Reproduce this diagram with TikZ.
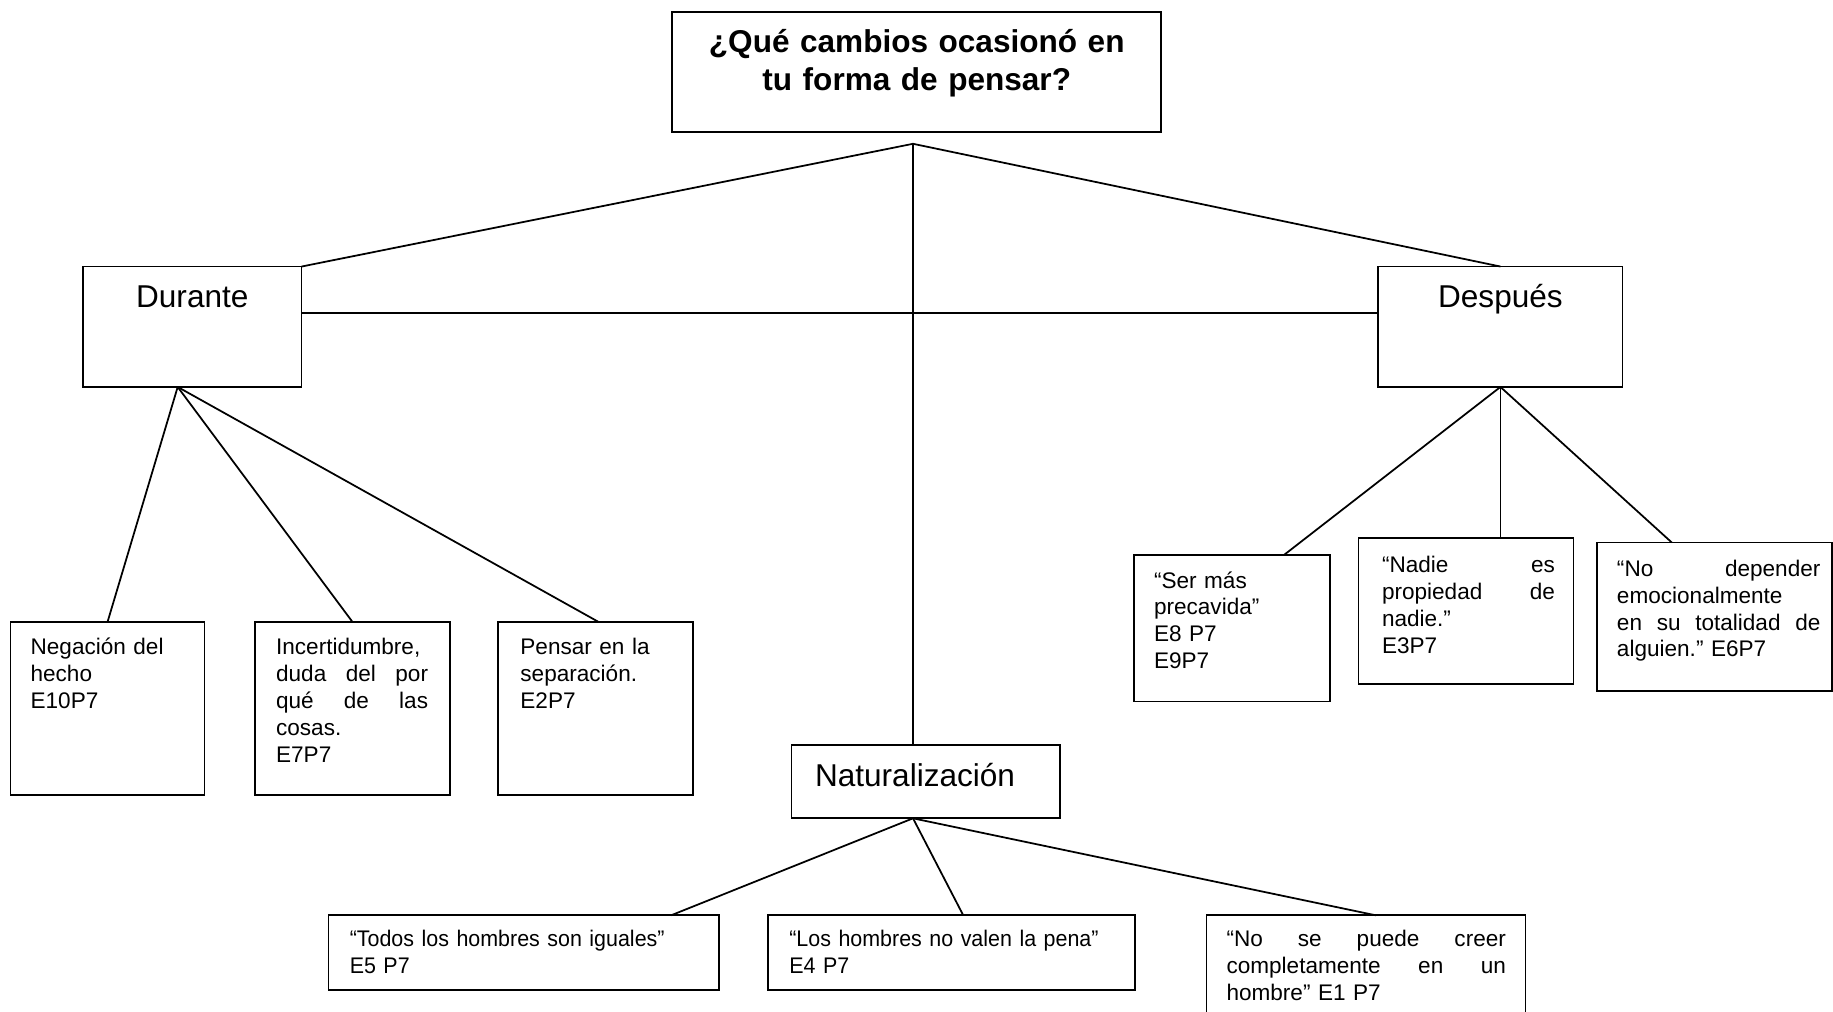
\documentclass[tikz,border=0pt]{standalone}
\usepackage{fontspec}
\setmainfont{Liberation Sans}
\newfontfamily\narrowsans[FakeStretch=0.95]{Liberation Sans}
\usetikzlibrary{calc}
\frenchspacing
\newcommand{\tline}[1]{\leavevmode\hbox to\linewidth{#1\hfil}\par}
\newcommand{\ctrline}[1]{\leavevmode\hbox to\linewidth{\hfil#1\hfil}\par}
\begin{document}
\begin{tikzpicture}[x=1pt,y=-1pt,
  box/.style={draw=black, line width=1.5pt, anchor=north west, inner sep=0pt, outer sep=0pt},
  con/.style={draw=black, line width=1.5pt},
  small/.style={anchor=base west, inner sep=0pt, font=\fontsize{19.3}{23}\selectfont},
  big/.style={anchor=base, inner sep=0pt, font=\fontsize{27}{31}\selectfont},
  title/.style={anchor=base west, inner sep=0pt, font=\bfseries\fontsize{27}{32}\selectfont}]
\useasboundingbox (0,0) rectangle (1568,865);

% boxes
\node[box, minimum width=418pt, minimum height=103pt] (top) at (575,10) {};
\node[box, minimum width=187pt, minimum height=103pt] (dur) at (71,228) {};
\node[box, minimum width=209pt, minimum height=103pt] (des) at (1179,228) {};
\node[box, minimum width=230pt, minimum height=63pt] (nat) at (677,637) {};
\node[box, minimum width=166pt, minimum height=148pt] (b1) at (9,532) {};
\node[box, minimum width=167pt, minimum height=148pt] (b2) at (218,532) {};
\node[box, minimum width=167pt, minimum height=148pt] (b3) at (426,532) {};
\node[box, minimum width=168pt, minimum height=125pt] (b4) at (970,475) {};
\node[box, minimum width=184pt, minimum height=125pt] (b5) at (1162,460) {};
\node[box, minimum width=201pt, minimum height=127pt] (b6) at (1366,464) {};
\node[box, minimum width=334pt, minimum height=64pt] (b7) at (281,783) {};
\node[box, minimum width=314pt, minimum height=64pt] (b8) at (657,783) {};
\node[box, minimum width=273pt, minimum height=95pt] (b9) at (1032,783) {};

% texts
\node[title, text width=418pt] (ttop) at ($(top.north west)+(0,35)$)
  {\ctrline{¿Qué cambios ocasionó en}\ctrline{tu forma de pensar?}};
\node[big] (tdur) at ($(dur.north)+(0,35)$) {Durante};
\node[big] (tdes) at ($(des.north)+(0,35)$) {Después};
\node[big, anchor=base west] (tnat) at ($(nat.north west)+(20,36)$) {Naturalización};

\node[small, text width=140pt] (t1) at ($(b1.north west)+(17,28)$)
  {\tline{Negación del}\tline{hecho}\tline{E10P7}};
\node[small, text width=130pt] (t2) at ($(b2.north west)+(18,28)$)
  {\tline{Incertidumbre,}\tline{duda\hfill del\hfill por}\tline{qué\hfill de\hfill las}\tline{cosas.}\tline{E7P7}};
\node[small, text width=140pt] (t3) at ($(b3.north west)+(19,28)$)
  {\tline{Pensar en la}\tline{separación.}\tline{E2P7}};
\node[small, text width=140pt] (t4) at ($(b4.north west)+(17,28)$)
  {\tline{“Ser más}\tline{precavida”}\tline{E8 P7}\tline{E9P7}};
\node[small, text width=148pt] (t5) at ($(b5.north west)+(20,30)$)
  {\tline{“Nadie\hfill es}\tline{propiedad\hfill de}\tline{nadie.”}\tline{E3P7}};
\node[small, text width=174pt] (t6) at ($(b6.north west)+(17,29)$)
  {\tline{“No\hfill depender}\tline{emocionalmente}\tline{en\hfill su\hfill totalidad\hfill de}\tline{alguien.” E6P7}};
\node[small, text width=300pt] (t7) at ($(b7.north west)+(18,27)$)
  {\narrowsans\tline{“Todos los hombres son iguales”}\tline{E5 P7}};
\node[small, text width=290pt] (t8) at ($(b8.north west)+(18,27)$)
  {\narrowsans\tline{“Los hombres no valen la pena”}\tline{E4 P7}};
\node[small, text width=239pt] (t9) at ($(b9.north west)+(17,27)$)
  {\tline{“No\hfill se\hfill puede\hfill creer}\tline{completamente\hfill en\hfill un}\tline{hombre” E1 P7}};

% junction points
\coordinate (apex) at ($(top.south)+(-3,10)$);
\coordinate (durb) at ($(dur.south west)+(81,0)$);
\coordinate (natb) at (nat.south -| apex);

% connectors
\draw[con] (apex) -- (dur.north east);
\draw[con] (apex) -- (des.north);
\draw[con] (apex) -- (nat.north -| apex);
\draw[con] ($(dur.north east)+(0,40)$) -- ($(des.north west)+(0,40)$);

\draw[con] (durb) -- (b1.north);
\draw[con] (durb) -- (b2.north);
\draw[con] (durb) -- ($(b3.north west)+(86,0)$);

\draw[con] (des.south) -- ($(b4.north west)+(128,0)$);
\draw[con] (des.south) -- (b5.north -| des.south);
\draw[con] (des.south) -- ($(b6.north west)+(64,0)$);

\draw[con] (natb) -- ($(b7.north west)+(293,0)$);
\draw[con] (natb) -- ($(b8.north west)+(167,0)$);
\draw[con] (natb) -- ($(b9.north west)+(145,0)$);
\end{tikzpicture}
\end{document}
